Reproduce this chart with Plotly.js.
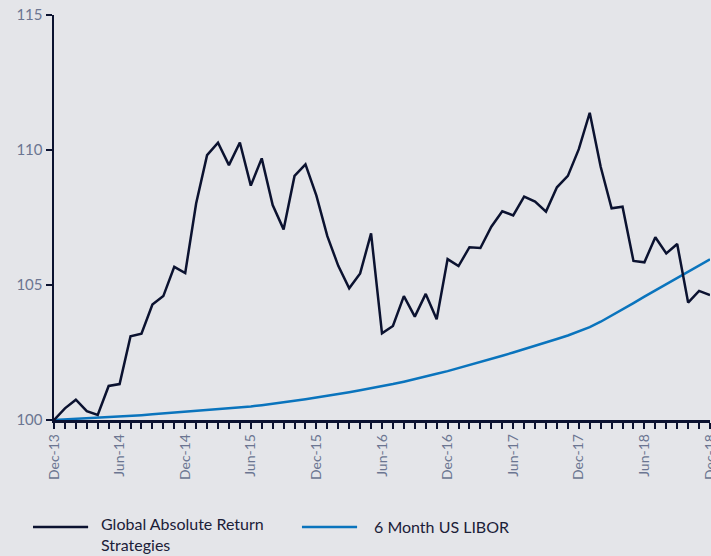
<!DOCTYPE html>
<html>
<head>
<meta charset="utf-8">
<script src="https://cdn.plot.ly/plotly-3.0.1.min.js"></script>
<style>html,body{margin:0;padding:0;background:#e4e5e9;}#chart{width:711px;height:556px;}</style>
</head>
<body>
<div id="chart"></div>
<script>
// Monthly index values, Dec-13 .. Dec-18
var garsValues = [100.00,100.43,100.75,100.33,100.19,101.26,101.33,103.10,103.20,104.28,104.59,105.67,105.44,
  108.02,109.81,110.27,109.44,110.28,108.68,109.69,107.96,107.06,109.04,109.47,108.31,
  106.81,105.71,104.88,105.43,106.91,103.21,103.48,104.59,103.83,104.67,103.73,105.96,
  105.70,106.40,106.37,107.16,107.73,107.58,108.27,108.09,107.72,108.62,109.04,110.03,
  111.38,109.38,107.84,107.90,105.89,105.84,106.77,106.17,106.52,104.35,104.78,104.63];
var liborValues = [100.00,100.02,100.04,100.06,100.09,100.11,100.13,100.15,100.18,100.21,100.24,100.27,100.30,
  100.33,100.36,100.39,100.42,100.46,100.50,100.55,100.60,100.65,100.71,100.77,100.83,
  100.89,100.96,101.03,101.10,101.17,101.25,101.33,101.42,101.51,101.61,101.71,101.81,
  101.92,102.03,102.14,102.26,102.38,102.50,102.62,102.74,102.87,103.00,103.13,103.28,
  103.44,103.64,103.86,104.09,104.33,104.57,104.80,105.02,105.24,105.48,105.71,105.95];
var tickPositions = [0,6,12,18,24,30,36,42,48,54,60];
var tickLabels = ["Dec-13","Jun-14","Dec-14","Jun-15","Dec-15","Jun-16","Dec-16","Jun-17","Dec-17","Jun-18","Dec-18"];
var yTicks = [100,105,110,115];
var seriesNames = ["Global Absolute Return<br>Strategies","6 Month US LIBOR"];

var xIdx = garsValues.map(function(v,i){return i;});
var navy = "#0b1230", blue = "#0a74bd", grey = "#6b7591", bg = "#e4e5e9", legendText = "#1b2038";

var traces = [
  {x: xIdx, y: liborValues, type: "scatter", mode: "lines", name: seriesNames[1],
   line: {color: blue, width: 2.5}, showlegend: false, cliponaxis: false},
  {x: xIdx, y: garsValues, type: "scatter", mode: "lines", name: seriesNames[0],
   line: {color: navy, width: 2.5}, showlegend: false, cliponaxis: false}
];

// plot area: 405 px tall, 656 px wide
function py(pix){ return (420 - pix) / 405; }
var layout = {
  width: 711, height: 556,
  paper_bgcolor: bg, plot_bgcolor: bg,
  margin: {l: 54, r: 1, t: 15, b: 136},
  font: {family: "Lato, 'Open Sans', sans-serif", color: grey},
  showlegend: false,
  xaxis: {
    range: [0, 60], tickvals: tickPositions, ticktext: tickLabels, tickangle: -90,
    ticklabeloverflow: "allow",
    showgrid: false, zeroline: false, showline: true, linecolor: navy, linewidth: 2.5,
    ticks: "outside", ticklen: 6, tickwidth: 2, tickcolor: navy,
    minor: {dtick: 1, tick0: 0, ticks: "outside", ticklen: 6, tickwidth: 2, tickcolor: navy, showgrid: false},
    tickfont: {size: 14, color: grey}, fixedrange: true
  },
  yaxis: {
    range: [100, 115], tickvals: yTicks, ticktext: yTicks.map(String),
    showgrid: false, zeroline: false, showline: true, linecolor: navy, linewidth: 2.5,
    ticks: "outside", ticklen: 6, tickwidth: 2, tickcolor: navy,
    tickfont: {size: 15, color: grey}, fixedrange: true
  },
  shapes: [
    {type: "line", xref: "paper", yref: "paper", x0: -0.032, x1: 0.052, y0: py(527), y1: py(527),
     line: {color: navy, width: 2.5}},
    {type: "line", xref: "paper", yref: "paper", x0: 0.378, x1: 0.462, y0: py(527), y1: py(527),
     line: {color: blue, width: 2.5}}
  ],
  annotations: [
    {xref: "paper", yref: "paper", x: 0.068, y: py(534), xanchor: "left", yanchor: "middle",
     text: seriesNames[0], showarrow: false, align: "left", font: {size: 16, color: legendText}},
    {xref: "paper", yref: "paper", x: 0.485, y: py(526), xanchor: "left", yanchor: "middle",
     text: seriesNames[1], showarrow: false, align: "left", font: {size: 16, color: legendText}}
  ]
};
Plotly.newPlot("chart", traces, layout, {displayModeBar: false, staticPlot: true});
</script>
</body>
</html>
